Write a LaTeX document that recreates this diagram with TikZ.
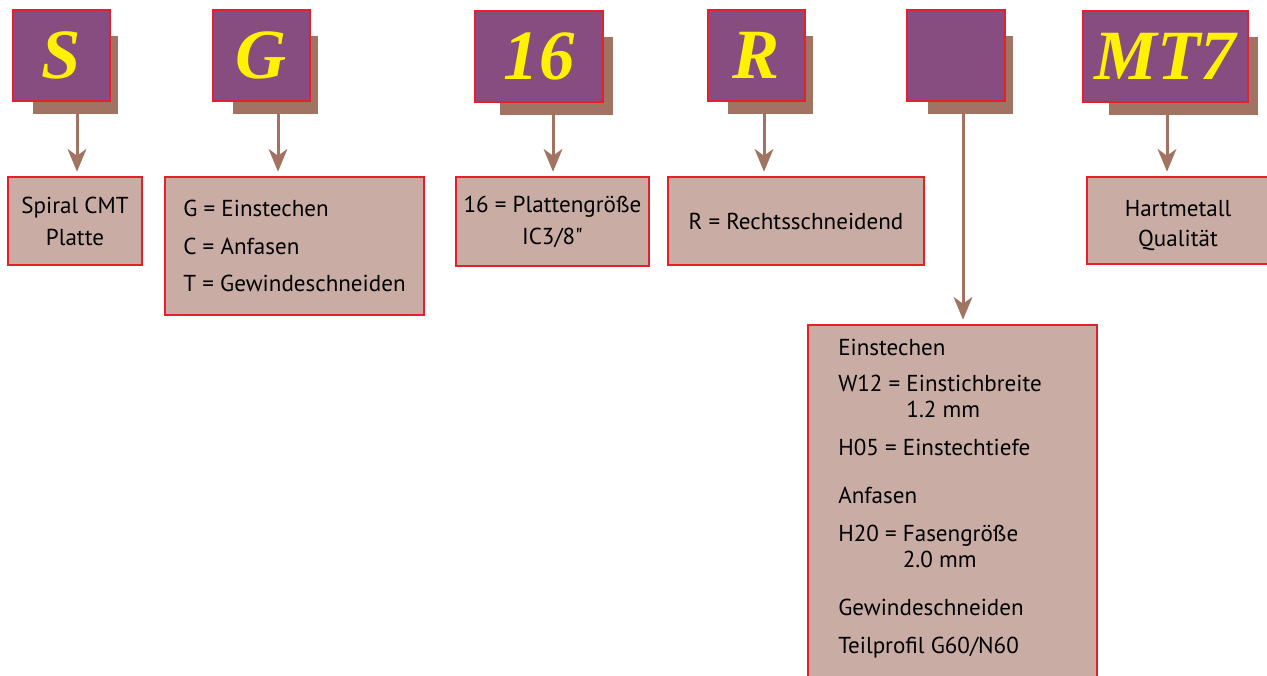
\documentclass[tikz,border=0pt]{standalone}
\usepackage{fontspec}
\setmainfont{PT Sans}[Ligatures=TeXOff]
\newfontfamily\codefont{Liberation Serif}
\usepackage{tikz}
\usetikzlibrary{arrows.meta}
\usetikzlibrary{calc}
\usetikzlibrary{backgrounds}

\definecolor{codepurple}{RGB}{135,76,128}
\definecolor{shadowbrown}{RGB}{160,115,98}
\definecolor{descfill}{RGB}{201,173,165}
\definecolor{borderred}{RGB}{227,32,44}
\definecolor{codeyellow}{RGB}{255,242,0}

\begin{document}
\begin{tikzpicture}[x=0.75pt, y=-0.75pt,
        code_style/.style={rectangle,draw=borderred,line width=0.9pt,fill=codepurple,text=codeyellow,
            minimum height=68.25pt,inner sep=0pt,font=\codefont\bfseries\itshape\fontsize{53}{53}\selectfont},
        desc_style/.style={rectangle,draw=borderred,line width=0.9pt,fill=descfill,inner sep=0pt,
            font=\fontsize{17.3}{24}\selectfont},
        shadow_style/.style={fill=shadowbrown},
        arrow_style/.style={draw=shadowbrown, line width=2.25pt, shorten >=3.5pt,
            -{Stealth[length=17pt,width=14pt,inset=5pt]}}]

        \useasboundingbox (0,0) rectangle (1267,675);

        \node [code_style,minimum width=72.75pt](c1) at (61.5,55.5) {S};

        \node [code_style,minimum width=72.75pt](c2) at (261.5,55.5) {G};

        \node [code_style,minimum width=96pt](c3) at (539,56.5) {16};

        \node [code_style,minimum width=72.75pt](c4) at (756.5,55.5) {R};

        \node [code_style,minimum width=73.5pt](c5) at (956,55.5) {};

        \node [code_style,minimum width=123.75pt](c6) at (1165.5,56.5) {MT7};

        \begin{scope}[on background layer]
        \fill [shadow_style] ($(c1.north west)+(21,27)$) rectangle ($(c1.south east)+(7,12)$);
        \fill [shadow_style] ($(c2.north west)+(21,27)$) rectangle ($(c2.south east)+(7,12)$);
        \fill [shadow_style] ($(c3.north west)+(26,27)$) rectangle ($(c3.south east)+(9,12)$);
        \fill [shadow_style] ($(c4.north west)+(21,27)$) rectangle ($(c4.south east)+(7,12)$);
        \fill [shadow_style] ($(c5.north west)+(22,27)$) rectangle ($(c5.south east)+(7,12)$);
        \fill [shadow_style] ($(c6.north west)+(27,27)$) rectangle ($(c6.south east)+(9,12)$);
        \end{scope}

        \node [desc_style,minimum width=100.5pt,minimum height=66pt,align=center](d1) at (75,221)
            {Spiral CMT\\Platte};

        \node [desc_style,minimum width=194.25pt,minimum height=103.5pt,align=left,
            font=\fontsize{17.3}{28}\selectfont](d2) at (294.5,246)
            {G = Einstechen\\C = Anfasen\\T = Gewindeschneiden};

        \node [desc_style,minimum width=144.75pt,minimum height=66.75pt,align=center](d3) at (552.5,221.5)
            {16 = Plattengröße\\IC3/8"};

        \node [desc_style,minimum width=192pt,minimum height=66pt](d4) at (796,221)
            {R = Rechtsschneidend};

        \node [desc_style,minimum width=216.75pt,minimum height=273.75pt](d5) at (952.5,507.5) {};

        \node [anchor=north west,align=left,inner sep=0pt,font=\fontsize{17.3}{19.5}\selectfont](t5) at (838,339)
            {Einstechen\\[7.5pt]
            W12 = Einstichbreite\\
            \phantom{W12 = }1.2 mm\\[9pt]
            H05 = Einstechtiefe\\[16.5pt]
            Anfasen\\[9pt]
            H20 = Fasengröße\\
            \phantom{H20 = }2.0 mm\\[16.5pt]
            Gewindeschneiden\\[9pt]
            Teilprofil G60/N60};

        \node [desc_style,minimum width=136.5pt,minimum height=65.25pt,align=center,
            font=\fontsize{17.3}{22.5}\selectfont](d6) at (1178,220.5)
            {\rule{0pt}{20pt}Hartmetall\\Qualität};

        \coordinate (a1) at (77,113);
        \coordinate (a2) at (278,113);
        \coordinate (a3) at (553,113);
        \coordinate (a4) at (764,113);
        \coordinate (a5) at (963,113);
        \coordinate (a6) at (1167,114);

        \draw [arrow_style] (a1) -- (a1 |- d1.north);

        \draw [arrow_style] (a2) -- (a2 |- d2.north);

        \draw [arrow_style] (a3) -- (a3 |- d3.north);

        \draw [arrow_style] (a4) -- (a4 |- d4.north);

        \draw [arrow_style] (a5) -- (a5 |- d5.north);

        \draw [arrow_style] (a6) -- (a6 |- d6.north);

        \end{tikzpicture}
\end{document}
